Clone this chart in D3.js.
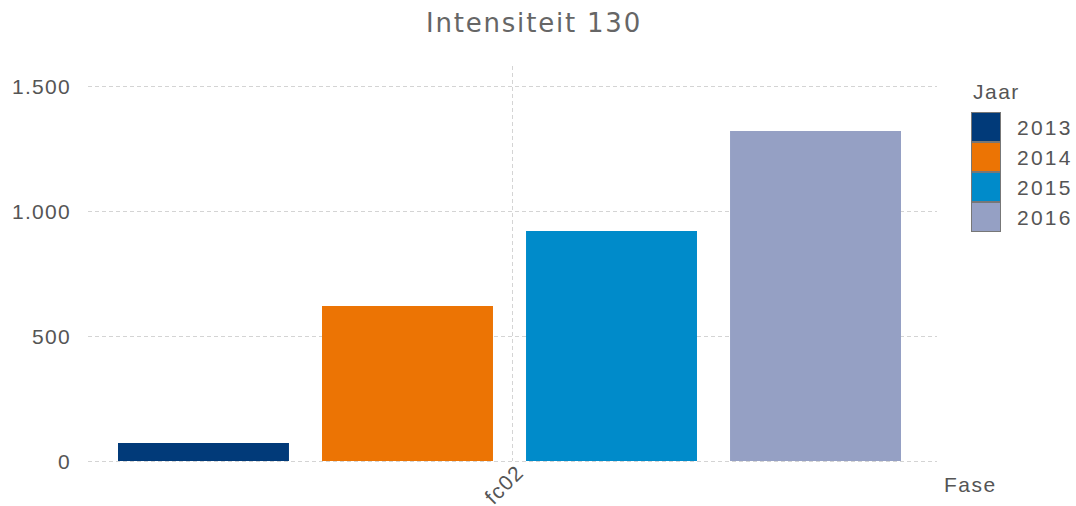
<!DOCTYPE html>
<html><head><meta charset="utf-8">
<script src="https://cdn.jsdelivr.net/npm/d3@7"></script>
<style>body{margin:0;background:#fff}text{font-family:"Liberation Sans",Arial,sans-serif}</style>
</head><body><svg id="c" width="1076" height="506"></svg>
<script>
const categories = ["fc02"];
const years = ["2013","2014","2015","2016"];
const values = [72, 620, 920, 1320];
const colors = ["#013a79","#ec7404","#008bca","#95a0c4"];
const yTicks = [0, 500, 1000, 1500];
const tickLabels = ["0","500","1.000","1.500"];

const svg = d3.select("#c");
const L = 88, R = 937, T = 66, B = 461;
const y = d3.scaleLinear().domain([0, 1500]).range([B, 86]);
const x0 = d3.scaleBand().domain(categories).range([L, R]).paddingInner(0).paddingOuter(0);
const x1 = d3.scaleBand().domain(years).range([30, 30 + 783]).paddingInner(0.162).paddingOuter(0);

// gridlines
svg.append("g").selectAll("line").data(yTicks).join("line")
  .attr("x1", L).attr("x2", R).attr("y1", d => y(d)+0.5).attr("y2", d => y(d)+0.5)
  .attr("stroke", "#d4d4d4").attr("stroke-dasharray", "4,3");
svg.append("g").selectAll("line").data(categories).join("line")
  .attr("x1", d => Math.floor(x0(d)+x0.bandwidth()/2)+0.5).attr("x2", d => Math.floor(x0(d)+x0.bandwidth()/2)+0.5)
  .attr("y1", T).attr("y2", B).attr("stroke", "#d4d4d4").attr("stroke-dasharray", "4,3");

// y axis labels
svg.append("g").selectAll("text").data(yTicks).join("text")
  .attr("x", 71).attr("y", d => y(d)).attr("dy", "0.36em").attr("text-anchor", "end")
  .attr("fill", "#555").attr("font-size", 21).attr("letter-spacing", 1.3).text((d,i) => tickLabels[i]);

// bars
const g = svg.append("g");
categories.forEach(c => {
  g.selectAll("rect").data(values).join("rect")
    .attr("x", (d,i) => x0(c) + x1(years[i]))
    .attr("width", x1.bandwidth())
    .attr("y", d => y(d)).attr("height", d => B - y(d))
    .attr("fill", (d,i) => colors[i]);
});

// x labels
svg.append("g").selectAll("text").data(categories).join("text")
  .attr("transform", d => `translate(${x0(d)+x0.bandwidth()/2+2},${B+2}) rotate(-45)`)
  .attr("text-anchor", "end").attr("dy", "0.72em").attr("fill", "#555").attr("font-size", 21)
  .attr("letter-spacing", 1.3).text(d => d);

svg.append("text").attr("x", 944).attr("y", 492).attr("fill", "#555").attr("font-size", 21)
  .attr("letter-spacing", 1.5).text("Fase");

// title
svg.append("text").attr("x", 534).attr("y", 32).attr("text-anchor", "middle")
  .attr("fill", "#666").attr("font-size", 26).attr("letter-spacing", 1.8)
  .style("font-family", "'DejaVu Sans',sans-serif").text("Intensiteit 130");

// legend
svg.append("text").attr("x", 973).attr("y", 99).attr("fill", "#555").attr("font-size", 21)
  .attr("letter-spacing", 1.5).text("Jaar");
const lg = svg.append("g");
lg.selectAll("rect").data(years).join("rect")
  .attr("x", 971.5).attr("y", (d,i) => 112.5 + i*30).attr("width", 29).attr("height", 29)
  .attr("fill", (d,i) => colors[i]).attr("stroke", "#777").attr("stroke-width", 1);
lg.selectAll("text").data(years).join("text")
  .attr("x", 1017).attr("y", (d,i) => 127 + i*30).attr("dy", "0.36em")
  .attr("fill", "#555").attr("font-size", 21).attr("letter-spacing", 2.2).text(d => d);
</script></body></html>
